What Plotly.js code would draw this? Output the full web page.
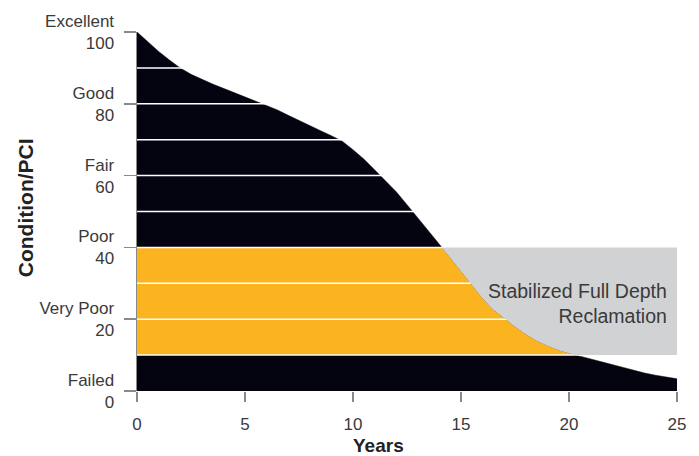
<!DOCTYPE html>
<html>
<head>
<meta charset="utf-8">
<script src="https://cdn.plot.ly/plotly-3.0.1.min.js"></script>
<style>
  html, body { margin: 0; padding: 0; background: #ffffff; }
  #chart { width: 699px; height: 456px; }
</style>
</head>
<body>
<div id="chart"></div>
<script>
// ---- Data ----
const years = [0,0.5,1,1.5,2,2.5,3,3.5,4,4.5,5,5.5,6,6.5,7,7.5,8,8.5,9,9.5,10,10.5,11,11.5,12,12.5,13,13.5,14,14.5,15,15.5,16,16.5,17,17.5,18,18.5,19,19.5,20,20.5,21,21.5,22,22.5,23,23.5,24,24.5,25];
const pci = [100,97.2,94.6,92.2,90,88.2,86.8,85.5,84.3,83.1,82.0,80.9,79.7,78.3,76.8,75.3,73.9,72.5,71.1,69.6,67.2,64.6,61.6,58.6,55.5,51.9,48.3,44.6,40.9,37.1,33.3,29.5,25.8,22.6,20.2,17.9,15.8,14.0,12.6,11.4,10.5,9.7,9.0,8.2,7.4,6.6,5.7,5.0,4.4,3.9,3.4];

const treatmentLow = 10;   // bottom of the treatment window (PCI)
const treatmentHigh = 40;  // top of the treatment window (PCI)
const bandLevels = [10,20,30,40,50,60,70,80,90];

const yTickVals = [0,20,40,60,80,100];
const yTickText = ['Failed<br>0','Very Poor<br>20','Poor<br>40','Fair<br>60','Good<br>80','Excellent<br>100'];
const xTickVals = [0,5,10,15,20,25];

const treatmentLabel = 'Stabilized Full Depth<br>Reclamation';
const xTitle = 'Years';
const yTitle = 'Condition/PCI';

// ---- helpers: add exact level crossings so clamped fills meet the curve ----
function withCrossings(xs, ys, levels) {
  const ox = [], oy = [];
  for (let i = 0; i < xs.length - 1; i++) {
    ox.push(xs[i]); oy.push(ys[i]);
    const a = ys[i], b = ys[i+1];
    const cr = [];
    levels.forEach(L => {
      if ((a - L) * (b - L) < 0) {
        const t = (L - a) / (b - a);
        cr.push([t, xs[i] + t * (xs[i+1] - xs[i]), L]);
      }
    });
    cr.sort((p, q) => p[0] - q[0]).forEach(c => { ox.push(c[1]); oy.push(c[2]); });
  }
  ox.push(xs[xs.length-1]); oy.push(ys[ys.length-1]);
  return [ox, oy];
}

const [cx, cy] = withCrossings(years, pci, [treatmentLow, treatmentHigh]);
const orangeLow = cy.map(v => Math.min(v, treatmentLow));
const orangeHigh = cy.map(v => Math.min(v, treatmentHigh));
const grayLow = cy.map(v => Math.max(Math.min(v, treatmentHigh), treatmentLow));
const grayHigh = cy.map(() => treatmentHigh);

const BLACK = '#03040f';
const ORANGE = '#fbb420';
const GRAY = '#d1d2d4';

const lineX = [], lineY = [];
bandLevels.forEach(l => { lineX.push(years[0], years[years.length-1], null); lineY.push(l, l, null); });

const traces = [
  { x: cx, y: cy, type: 'scatter', mode: 'lines', fill: 'tozeroy',
    fillcolor: BLACK, line: { color: BLACK, width: 0.5 }, hoverinfo: 'skip' },
  { x: cx, y: orangeLow, type: 'scatter', mode: 'lines', line: { width: 0 }, hoverinfo: 'skip' },
  { x: cx, y: orangeHigh, type: 'scatter', mode: 'lines', fill: 'tonexty',
    fillcolor: ORANGE, line: { width: 0 }, hoverinfo: 'skip' },
  { x: lineX, y: lineY, type: 'scatter', mode: 'lines',
    line: { color: '#ffffff', width: 1.5 }, hoverinfo: 'skip' },
  { x: cx, y: grayLow, type: 'scatter', mode: 'lines', line: { width: 0 }, hoverinfo: 'skip' },
  { x: cx, y: grayHigh, type: 'scatter', mode: 'lines', fill: 'tonexty',
    fillcolor: GRAY, line: { width: 0 }, hoverinfo: 'skip' }
];

const FONT = '"Liberation Sans", Arial, Helvetica, sans-serif';
const TXT = '#3a3a3a';

const layout = {
  width: 699, height: 456,
  margin: { l: 137, r: 22, t: 32, b: 65 },
  paper_bgcolor: '#ffffff', plot_bgcolor: '#ffffff',
  showlegend: false,
  font: { family: FONT, color: TXT, size: 17 },
  xaxis: {
    range: [0, 25], tickvals: xTickVals, ticks: 'outside', ticklen: 10,
    tickcolor: '#8a8a8a', tickwidth: 1.5, showline: false, showgrid: false,
    zeroline: false, ticklabelstandoff: 8,
    tickfont: { size: 17, color: TXT }, fixedrange: true
  },
  yaxis: {
    range: [0, 100], tickvals: yTickVals, ticktext: yTickText,
    ticks: 'outside', ticklen: 12, tickcolor: '#8a8a8a', tickwidth: 1.5,
    showline: true, linecolor: '#8a8a8a', linewidth: 1.5,
    showgrid: false, zeroline: false, ticklabelstandoff: 6,
    tickfont: { size: 17, color: TXT }, fixedrange: true
  },
  annotations: [
    { text: treatmentLabel, xref: 'x', yref: 'y', x: 24.63, y: 24.5,
      xanchor: 'right', yanchor: 'middle', align: 'right', showarrow: false,
      font: { family: FONT, size: 19.5, color: TXT } },
    { text: '<b>' + xTitle + '</b>', xref: 'paper', yref: 'paper',
      x: 0.448, y: -0.152, xanchor: 'center', yanchor: 'middle', showarrow: false,
      font: { family: FONT, size: 19, color: '#222222' } },
    { text: '<b>' + yTitle + '</b>', xref: 'paper', yref: 'paper', textangle: -90,
      x: -0.205, y: 0.51, xanchor: 'center', yanchor: 'middle', showarrow: false,
      font: { family: FONT, size: 21, color: '#222222' } }
  ]
};

Plotly.newPlot('chart', traces, layout, { displayModeBar: false, staticPlot: true });
</script>
</body>
</html>
